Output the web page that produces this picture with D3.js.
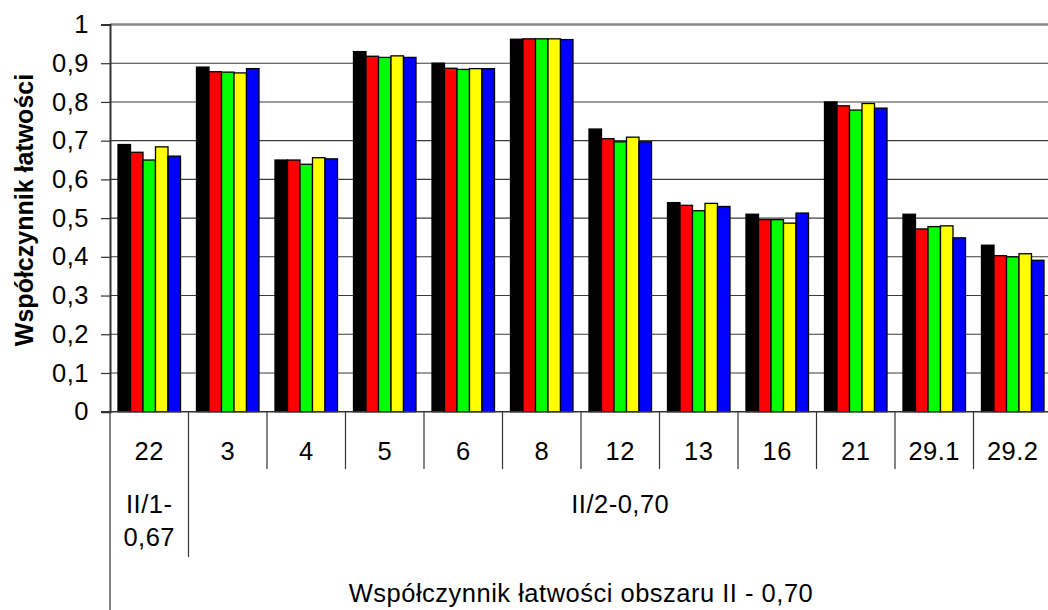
<!DOCTYPE html>
<html>
<head>
<meta charset="utf-8">
<script src="https://cdn.jsdelivr.net/npm/d3@7"></script>
<style>
  html, body { margin: 0; padding: 0; background: #fff; }
  svg { display: block; font-family: "Liberation Sans", Arial, sans-serif; }
  .lbl { letter-spacing: 0.5px; }
</style>
</head>
<body>
<svg id="chart" width="1048" height="610"></svg>
<script>
// ---- data ----
const categories = ['22', '3', '4', '5', '6', '8', '12', '13', '16', '21', '29.1', '29.2'];
const seriesNames = ['s1', 's2', 's3', 's4', 's5'];
const seriesColors = ['#000000', '#ff0000', '#00ff00', '#ffff00', '#0000ff'];
const s1 = [0.69, 0.89, 0.65, 0.93, 0.90, 0.962, 0.73, 0.54, 0.51, 0.80, 0.51, 0.43];
const s2 = [0.67, 0.878, 0.65, 0.918, 0.887, 0.963, 0.705, 0.533, 0.496, 0.79, 0.472, 0.403];
const s3 = [0.65, 0.877, 0.639, 0.915, 0.884, 0.963, 0.697, 0.519, 0.496, 0.779, 0.478, 0.40];
const s4 = [0.684, 0.875, 0.656, 0.919, 0.886, 0.963, 0.709, 0.538, 0.487, 0.796, 0.48, 0.408];
const s5 = [0.66, 0.886, 0.653, 0.915, 0.886, 0.961, 0.697, 0.53, 0.513, 0.784, 0.449, 0.391];
const yTicks = [0, 0.1, 0.2, 0.3, 0.4, 0.5, 0.6, 0.7, 0.8, 0.9, 1];
// second label row: [first category index, last index + 1, text lines]
const groups = [
  { from: 0, to: 1, lines: ['II/1-', '0,67'] },
  { from: 1, to: 12, lines: ['II/2-0,70'] }
];
const yTitle = 'Współczynnik łatwości';
const xTitle = 'Współczynnik łatwości obszaru II - 0,70';

const values = [s1, s2, s3, s4, s5];
const rows = categories.map((c, i) => ({ cat: c, vals: seriesNames.map((s, j) => ({ s, v: values[j][i] })) }));

// ---- layout ----
const svg = d3.select('#chart');
const pLeft = 110, pRight = 1052, pTop = 24.5, pBottom = 411.7;
const FS = 25.5;

const x = d3.scaleBand().domain(categories).range([pLeft, pRight]).padding(0);
const xs = d3.scaleBand().domain(seriesNames).range([0, x.bandwidth()]).paddingInner(0).paddingOuter(0.64);
const y = d3.scaleLinear().domain([0, 1]).range([pBottom, pTop]);
const color = d3.scaleOrdinal().domain(seriesNames).range(seriesColors);

// gridlines
svg.append('g').selectAll('line').data(yTicks.filter(t => t > 0 && t < 1)).join('line')
  .attr('x1', pLeft).attr('x2', pRight)
  .attr('y1', d => y(d)).attr('y2', d => y(d))
  .attr('stroke', '#3a3a3a').attr('stroke-width', 1.1);
svg.append('line')
  .attr('x1', pLeft).attr('x2', pRight).attr('y1', y(1)).attr('y2', y(1))
  .attr('stroke', '#888').attr('stroke-width', 2.4);

// bars
const grp = svg.append('g').selectAll('g').data(rows).join('g')
  .attr('transform', d => `translate(${x(d.cat)},0)`);
grp.selectAll('rect').data(d => d.vals).join('rect')
  .attr('x', d => xs(d.s))
  .attr('width', xs.bandwidth())
  .attr('y', d => y(d.v))
  .attr('height', d => y(0) - y(d.v))
  .attr('fill', d => color(d.s))
  .attr('stroke', '#000').attr('stroke-width', 1.3);

// y axis
const yAxis = svg.append('g').attr('transform', `translate(${pLeft},0)`)
  .call(d3.axisLeft(y).tickValues(yTicks).tickSize(9).tickPadding(12)
    .tickFormat(d => d3.format('.1f')(d).replace('.', ',').replace(/^0,0$/, '0').replace(/^1,0$/, '1')));
yAxis.select('.domain').attr('stroke', '#333').attr('stroke-width', 2);
yAxis.selectAll('.tick line').attr('stroke', '#333').attr('stroke-width', 1.2);
yAxis.selectAll('.tick text').attr('font-size', FS).attr('font-family', '"Liberation Sans", Arial, sans-serif')
  .attr('fill', '#000').attr('class', 'lbl');

// x axis line
svg.append('line').attr('x1', pLeft - 9).attr('x2', pRight).attr('y1', pBottom).attr('y2', pBottom)
  .attr('stroke', '#333').attr('stroke-width', 1.4);

// category separators (row 1)
const bounds = categories.map(c => x(c)).concat([pRight]);
svg.append('g').selectAll('line').data(bounds).join('line')
  .attr('x1', d => d).attr('x2', d => d)
  .attr('y1', pBottom).attr('y2', 469)
  .attr('stroke', '#333').attr('stroke-width', 1.2);

// category labels
svg.append('g').selectAll('text').data(categories).join('text')
  .attr('class', 'lbl')
  .attr('x', d => x(d) + x.bandwidth() / 2)
  .attr('y', 460)
  .attr('text-anchor', 'middle')
  .attr('font-size', FS)
  .text(d => d);

// group separators (row 2) and labels
const gBounds = [pLeft].concat(groups.map(g => g.to === categories.length ? pRight : x(categories[g.to])));
svg.append('g').selectAll('line').data(gBounds).join('line')
  .attr('x1', d => d).attr('x2', d => d)
  .attr('y1', 469).attr('y2', d => d === pLeft ? 615 : 557)
  .attr('stroke', '#333').attr('stroke-width', 1.2);

groups.forEach(g => {
  const x0 = x(categories[g.from]);
  const x1 = g.to === categories.length ? pRight : x(categories[g.to]);
  svg.append('text')
    .attr('class', 'lbl')
    .attr('x', (x0 + x1) / 2)
    .attr('y', 513)
    .attr('text-anchor', 'middle')
    .attr('font-size', FS)
    .selectAll('tspan').data(g.lines).join('tspan')
    .attr('x', (x0 + x1) / 2)
    .attr('dy', (d, i) => i ? 33 : 0)
    .text(d => d);
});

// x title (row 3)
svg.append('text')
  .attr('class', 'lbl')
  .attr('x', (pLeft + pRight) / 2)
  .attr('y', 602)
  .attr('text-anchor', 'middle')
  .attr('font-size', FS)
  .text(xTitle);

// y title
svg.append('text')
  .attr('transform', 'translate(33,210) rotate(-90)')
  .attr('text-anchor', 'middle')
  .attr('font-size', 25)
  .attr('font-weight', 'bold')
  .text(yTitle);
</script>
</body>
</html>
